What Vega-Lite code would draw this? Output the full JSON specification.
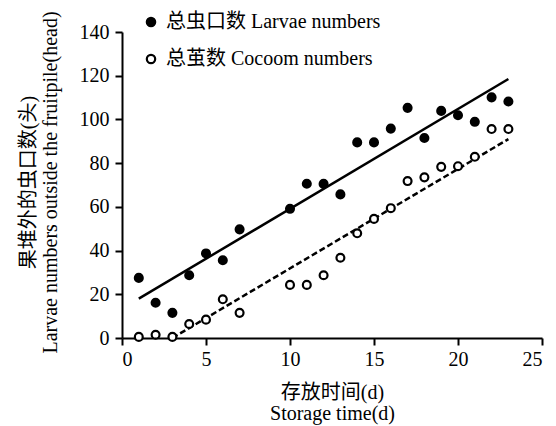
{
  "$schema": "https://vega.github.io/schema/vega-lite/v6.json",
  "width": 420,
  "height": 306,
  "autosize": {"type": "none"},
  "padding": {"left": 122, "top": 32, "right": 14, "bottom": 88},
  "background": "white",
  "config": {
    "view": {"stroke": null},
    "font": "Liberation Serif",
    "axis": {
      "grid": false,
      "domainColor": "black",
      "domainWidth": 2,
      "tickColor": "black",
      "tickWidth": 2,
      "tickSize": 7,
      "labelColor": "black",
      "labelFont": "Liberation Serif",
      "labelFontSize": 20,
      "titleFont": "Liberation Serif, Noto Sans CJK SC",
      "titleFontSize": 20,
      "titleFontWeight": "normal",
      "titleColor": "black"
    }
  },
  "datasets": {
    "points": [
      {"day": 1, "value": 27.5, "series": "总虫口数 Larvae numbers"},
      {"day": 2, "value": 16.1, "series": "总虫口数 Larvae numbers"},
      {"day": 3, "value": 11.5, "series": "总虫口数 Larvae numbers"},
      {"day": 4, "value": 28.7, "series": "总虫口数 Larvae numbers"},
      {"day": 5, "value": 38.7, "series": "总虫口数 Larvae numbers"},
      {"day": 6, "value": 35.6, "series": "总虫口数 Larvae numbers"},
      {"day": 7, "value": 49.7, "series": "总虫口数 Larvae numbers"},
      {"day": 10, "value": 59.1, "series": "总虫口数 Larvae numbers"},
      {"day": 11, "value": 70.6, "series": "总虫口数 Larvae numbers"},
      {"day": 12, "value": 70.5, "series": "总虫口数 Larvae numbers"},
      {"day": 13, "value": 65.7, "series": "总虫口数 Larvae numbers"},
      {"day": 14, "value": 89.5, "series": "总虫口数 Larvae numbers"},
      {"day": 15, "value": 89.5, "series": "总虫口数 Larvae numbers"},
      {"day": 16, "value": 95.8, "series": "总虫口数 Larvae numbers"},
      {"day": 17, "value": 105.3, "series": "总虫口数 Larvae numbers"},
      {"day": 18, "value": 91.5, "series": "总虫口数 Larvae numbers"},
      {"day": 19, "value": 103.9, "series": "总虫口数 Larvae numbers"},
      {"day": 20, "value": 101.9, "series": "总虫口数 Larvae numbers"},
      {"day": 21, "value": 98.9, "series": "总虫口数 Larvae numbers"},
      {"day": 22, "value": 110.1, "series": "总虫口数 Larvae numbers"},
      {"day": 23, "value": 108.2, "series": "总虫口数 Larvae numbers"},
      {"day": 1, "value": 0.5, "series": "总茧数  Cocoom numbers"},
      {"day": 2, "value": 1.5, "series": "总茧数  Cocoom numbers"},
      {"day": 3, "value": 0.5, "series": "总茧数  Cocoom numbers"},
      {"day": 4, "value": 6.4, "series": "总茧数  Cocoom numbers"},
      {"day": 5, "value": 8.4, "series": "总茧数  Cocoom numbers"},
      {"day": 6, "value": 17.7, "series": "总茧数  Cocoom numbers"},
      {"day": 7, "value": 11.5, "series": "总茧数  Cocoom numbers"},
      {"day": 10, "value": 24.3, "series": "总茧数  Cocoom numbers"},
      {"day": 11, "value": 24.3, "series": "总茧数  Cocoom numbers"},
      {"day": 12, "value": 28.7, "series": "总茧数  Cocoom numbers"},
      {"day": 13, "value": 36.7, "series": "总茧数  Cocoom numbers"},
      {"day": 14, "value": 47.9, "series": "总茧数  Cocoom numbers"},
      {"day": 15, "value": 54.5, "series": "总茧数  Cocoom numbers"},
      {"day": 16, "value": 59.4, "series": "总茧数  Cocoom numbers"},
      {"day": 17, "value": 71.8, "series": "总茧数  Cocoom numbers"},
      {"day": 18, "value": 73.5, "series": "总茧数  Cocoom numbers"},
      {"day": 19, "value": 78.3, "series": "总茧数  Cocoom numbers"},
      {"day": 20, "value": 78.6, "series": "总茧数  Cocoom numbers"},
      {"day": 21, "value": 82.9, "series": "总茧数  Cocoom numbers"},
      {"day": 22, "value": 95.6, "series": "总茧数  Cocoom numbers"},
      {"day": 23, "value": 95.6, "series": "总茧数  Cocoom numbers"}
    ],
    "fitLarvae": [
      {"day": 1, "value": 18},
      {"day": 23, "value": 118.5}
    ],
    "fitCocoon": [
      {"day": 3, "value": 0},
      {"day": 23, "value": 91}
    ]
  },
  "layer": [
    {
      "data": {"name": "fitLarvae"},
      "mark": {"type": "line", "color": "black", "strokeWidth": 2.5},
      "encoding": {
        "x": {"field": "day", "type": "quantitative", "scale": {"domain": [0, 25]}},
        "y": {"field": "value", "type": "quantitative", "scale": {"domain": [0, 140]}}
      }
    },
    {
      "data": {"name": "fitCocoon"},
      "mark": {"type": "line", "color": "black", "strokeWidth": 2.5, "strokeDash": [6, 3]},
      "encoding": {
        "x": {"field": "day", "type": "quantitative", "scale": {"domain": [0, 25]}},
        "y": {"field": "value", "type": "quantitative", "scale": {"domain": [0, 140]}}
      }
    },
    {
      "data": {"name": "points"},
      "mark": {"type": "point", "shape": "circle", "filled": true, "stroke": "black", "strokeWidth": 2.2, "opacity": 1, "size": 62},
      "encoding": {
        "x": {
          "field": "day", "type": "quantitative",
          "scale": {"domain": [0, 25]},
          "axis": {"values": [0, 5, 10, 15, 20, 25], "title": ["存放时间(d)", "Storage time(d)"], "titleY": 44, "titleBaseline": "top", "titleLineHeight": 21, "labelPadding": 4}
        },
        "y": {
          "field": "value", "type": "quantitative",
          "scale": {"domain": [0, 140]},
          "axis": {"values": [0, 20, 40, 60, 80, 100, 120, 140], "title": ["果堆外的虫口数(头)", "Larvae numbers outside the fruitpile(head)"], "titleX": -104, "titleY": 150, "titleAlign": "center", "titleBaseline": "top", "titleLineHeight": 22, "labelPadding": 6}
        },
        "fill": {
          "field": "series", "type": "nominal",
          "scale": {"domain": ["总虫口数 Larvae numbers", "总茧数  Cocoom numbers"], "range": ["black", "white"]},
          "legend": {
            "title": null,
            "orient": "none",
            "legendX": 19,
            "legendY": -20,
            "labelFont": "Liberation Serif, Noto Sans CJK SC",
            "labelFontSize": 20,
            "labelColor": "black",
            "labelLimit": 400,
            "rowPadding": 17,
            "symbolType": "circle",
            "symbolSize": 70,
            "symbolStrokeColor": "black",
            "symbolStrokeWidth": 2.2,
            "symbolOpacity": 1,
            "labelOffset": 5
          }
        }
      }
    }
  ]
}
